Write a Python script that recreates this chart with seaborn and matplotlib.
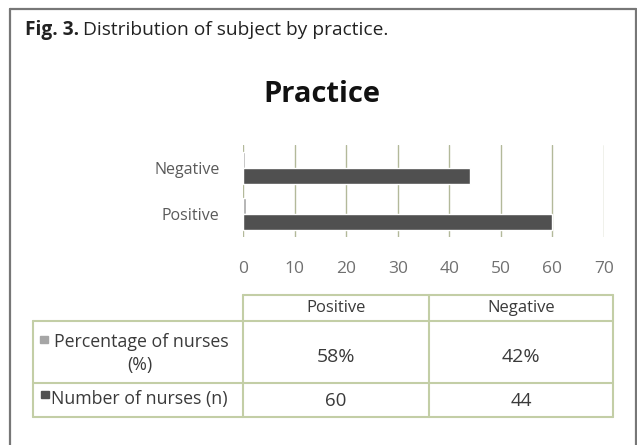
import matplotlib
matplotlib.use('Agg')
import matplotlib.pyplot as plt
import seaborn as sns
import pandas as pd

# ── Data ──────────────────────────────────────────────────────────────────────
CATEGORIES  = ['Positive', 'Negative']
PERCENT     = [58, 42]          # Percentage of nurses (%)
COUNTS      = [60, 44]          # Number of nurses (n)
SERIES      = ['Percentage of nurses (%)', 'Number of nurses (n)']
X_TICKS     = [0, 10, 20, 30, 40, 50, 60, 70]

DARK  = '#505050'
LIGHT = '#a6a6a6'
GRID  = '#b3b99a'
TBL   = '#c3cea6'
TXT   = '#3a3a3a'
FONT  = ['Open Sans', 'DejaVu Sans']

sns.set_theme(style='white')
plt.rcParams['font.family'] = FONT

# Excel plotted the percentage as a fraction (0.58), so it is a sliver of a bar
df = pd.DataFrame({
    'category': CATEGORIES * 2,
    'series': [SERIES[0]] * 2 + [SERIES[1]] * 2,
    'value': [p / 100 for p in PERCENT] + COUNTS,
})

W, H = 637, 445
fig = plt.figure(figsize=(W / 100, H / 100), dpi=100)
fig.patch.set_facecolor('white')

# ── Bar chart ─────────────────────────────────────────────────────────────────
ax = fig.add_axes([243 / W, 1 - 237 / H, (604 - 243) / W, (237 - 145) / H])
sns.barplot(data=df, y='category', x='value', hue='series',
            order=['Negative', 'Positive'], hue_order=SERIES,
            palette=[LIGHT, DARK], width=0.68, orient='h',
            legend=False, ax=ax, saturation=1)
ax.set_xlim(0, 70)
ax.set_xticks(X_TICKS)
ax.set_xlabel(''); ax.set_ylabel('')
for s in ax.spines.values():
    s.set_visible(False)
ax.grid(axis='x', color=GRID, linewidth=1.0)
ax.grid(axis='y', visible=False)
ax.set_axisbelow(True)
ax.tick_params(axis='x', length=0, pad=17, labelsize=12.5, labelcolor='#707070')
ax.tick_params(axis='y', length=0, pad=17, labelsize=11.5, labelcolor='#5a5a5a')

# ── Overlay: frame, caption, title, data table ───────────────────────────────
ov = fig.add_axes([0, 0, 1, 1], zorder=-1)
ov.set_xlim(0, W); ov.set_ylim(H, 0)
ov.axis('off')

ov.plot([10, 10], [9, H], color='#777777', lw=1.6)
ov.plot([10, 636], [9, 9], color='#777777', lw=1.6)
ov.plot([636, 636], [9, H], color='#777777', lw=1.6)

fig.canvas.draw()
r = fig.canvas.get_renderer()
t = ov.text(25, 30, 'Fig. 3.', fontsize=13.8, fontweight='bold', color='#222222',
            va='center', ha='left')
bb = t.get_window_extent(renderer=r)
ov.text(25 + bb.width + 4, 30, 'Distribution of subject by practice.', fontsize=13.8,
        color='#222222', va='center', ha='left')

ov.text(322, 94, 'Practice', fontsize=21, fontweight='bold', color='#111111',
        ha='center', va='center')

# table grid
for y, x0 in [(295, 243), (321, 33), (383, 33), (417, 33)]:
    ov.plot([x0, 613], [y, y], color=TBL, lw=1.5)
for x, y0 in [(33, 321), (243, 295), (429, 295), (613, 295)]:
    ov.plot([x, x], [y0, 417], color=TBL, lw=1.5)

col_x = [336, 521]
for cx, cat, p, n in zip(col_x, CATEGORIES, PERCENT, COUNTS):
    ov.text(cx, 308, cat, fontsize=12, color=TXT, ha='center', va='center')
    ov.text(cx, 357, f'{p}%', fontsize=14, color=TXT, ha='center', va='center')
    ov.text(cx, 401, f'{n}', fontsize=13.5, color=TXT, ha='center', va='center')

ov.add_patch(plt.Rectangle((40, 336), 8, 7, color=LIGHT))
ov.text(54, 342, 'Percentage of nurses', fontsize=12.8, color=TXT, ha='left', va='center')
ov.text(140, 365, '(%)', fontsize=12.8, color=TXT, ha='center', va='center')
ov.add_patch(plt.Rectangle((41, 391), 8, 7, color=DARK))
ov.text(51, 399, 'Number of nurses (n)', fontsize=12.8, color=TXT, ha='left', va='center')

plt.savefig('out.png', dpi=100)
plt.close()
